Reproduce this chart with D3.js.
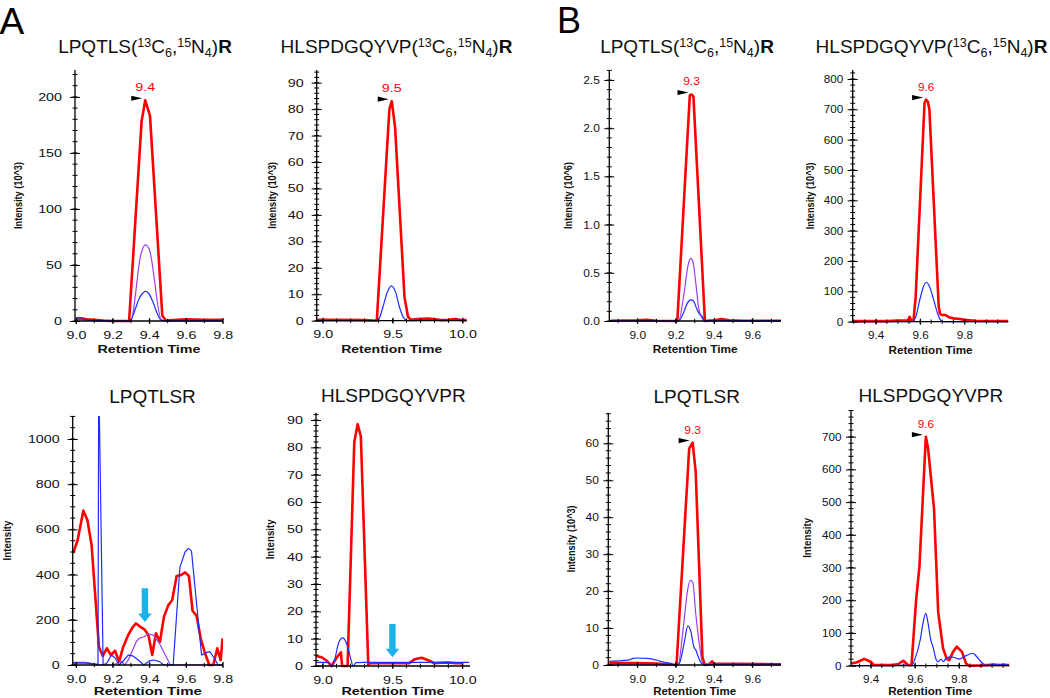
<!DOCTYPE html>
<html><head><meta charset="utf-8">
<script src="https://cdn.jsdelivr.net/npm/d3@7"></script>
<style>
html,body{margin:0;padding:0;background:#fff;}
svg{display:block;}
text{font-family:"Liberation Sans",Arial,Helvetica,sans-serif;}
</style></head><body>
<svg id="chart" width="1050" height="698"></svg>
<script>
// ---------------- DATA (retention time, intensity) ----------------
// Panel A, top-left: LPQTLS(13C6,15N4)R, intensity 10^3
const a1Red = [[9.0,2.5],[9.03,2.5],[9.06,1.5],[9.1,1],[9.15,0.3],[9.2,0],[9.29,0],[9.358,178],[9.378,197],[9.404,183],[9.471,5],[9.49,0.5],[9.55,1],[9.6,1.5],[9.65,1.2],[9.7,1],[9.8,1]];
const a1Purple = [[9.0,1.5],[9.05,1],[9.1,0.5],[9.2,0],[9.298,0],[9.355,60],[9.378,68],[9.40,64],[9.466,1],[9.49,0],[9.6,0.3],[9.8,0.3]];
const a1Blue = [[9.0,2],[9.05,1.5],[9.1,0.5],[9.2,0],[9.295,0],[9.32,9],[9.345,20],[9.365,25],[9.378,26.5],[9.395,25],[9.42,17],[9.445,6],[9.465,0.5],[9.5,0],[9.8,0.3]];
const a1XTicks = [9.0,9.2,9.4,9.6,9.8];
const a1YTicks = [0,50,100,150,200];

// Panel A, top-right: HLSPDGQYVP(13C6,15N4)R, intensity 10^3
const a2Red = [[8.96,0.3],[9.1,0.3],[9.3,0.2],[9.387,0],[9.477,80],[9.494,83],[9.518,73],[9.585,9],[9.61,1.5],[9.63,0.3],[9.68,0.6],[9.75,0.8],[9.8,0.6],[9.85,0.2],[9.9,0.3],[9.95,0.6],[10.0,0.2],[10.03,0.2]];
const a2Blue = [[8.96,0],[9.38,0],[9.40,0.5],[9.43,5],[9.46,10.5],[9.49,13.2],[9.52,11],[9.55,5],[9.58,1],[9.61,0],[9.8,0.2],[10.03,0.2]];
const a2XTicks = [9.0,9.5,10.0];
const a2YTicks = [0,10,20,30,40,50,60,70,80,90];

// Panel B, top-left: LPQTLS(13C6,15N4)R, intensity 10^6
const b1Red = [[8.86,0.003],[9.0,0.008],[9.05,0.012],[9.1,0.003],[9.209,0],[9.274,2.34],[9.283,2.35],[9.293,2.33],[9.353,0],[9.4,0.008],[9.44,0.02],[9.48,0.008],[9.55,0.003],[9.75,0.003]];
const b1Purple = [[8.86,0],[9.215,0],[9.245,0.3],[9.265,0.58],[9.278,0.65],[9.29,0.62],[9.305,0.4],[9.32,0.14],[9.335,0.04],[9.355,0],[9.75,0]];
const b1Blue = [[8.86,0],[9.215,0],[9.24,0.08],[9.26,0.18],[9.278,0.22],[9.292,0.21],[9.31,0.13],[9.325,0.07],[9.338,0.05],[9.352,0.005],[9.5,0.003],[9.75,0.003]];
const b1XTicks = [9.0,9.2,9.4,9.6];
const b1YTicks = [0,0.5,1.0,1.5,2.0,2.5];

// Panel B, top-right: HLSPDGQYVP(13C6,15N4)R, intensity 10^3
const b2Red = [[9.30,2],[9.45,2],[9.5,4],[9.545,5],[9.553,16],[9.56,3],[9.57,3],[9.58,80],[9.62,720],[9.627,732],[9.635,725],[9.642,700],[9.684,50],[9.69,25],[9.70,22],[9.715,22],[9.73,15],[9.75,11],[9.78,9],[9.8,6],[9.85,3],[9.9,2.5],[9.998,2.5]];
const b2Blue = [[9.30,0],[9.5,0],[9.565,0],[9.58,15],[9.598,70],[9.615,115],[9.628,130],[9.64,120],[9.662,70],[9.68,25],[9.695,3],[9.71,0],[9.998,0]];
const b2XTicks = [9.4,9.6,9.8];
const b2YTicks = [0,100,200,300,400,500,600,700,800];

// Panel A, bottom-left: LPQTLSR, intensity
const a3Red = [[8.985,495],[9.009,553],[9.04,683],[9.062,642],[9.085,531],[9.125,81],[9.146,40],[9.168,74],[9.191,44],[9.213,63],[9.235,15],[9.258,81],[9.285,133],[9.309,167],[9.327,184],[9.349,170],[9.373,158],[9.395,133],[9.416,44],[9.436,140],[9.458,103],[9.48,214],[9.504,265],[9.525,288],[9.549,394],[9.573,398],[9.595,410],[9.616,394],[9.636,240],[9.658,217],[9.682,111],[9.704,52],[9.727,0],[9.749,0],[9.771,74],[9.789,22],[9.8,118]];
const a3Purple = [[8.982,12],[9.05,12],[9.08,8],[9.1,0],[9.2,0],[9.23,10],[9.25,15],[9.265,0],[9.285,22],[9.309,66],[9.33,105],[9.345,118],[9.37,125],[9.395,137],[9.42,133],[9.455,96],[9.487,44],[9.515,0],[9.8,0]];
const a3Blue = [[8.982,8],[9.05,8],[9.1,5],[9.12,3],[9.124,1300],[9.148,0],[9.17,10],[9.193,44],[9.215,30],[9.235,0],[9.26,20],[9.285,44],[9.31,40],[9.34,22],[9.37,0],[9.4,18],[9.425,22],[9.455,15],[9.48,0],[9.53,0],[9.567,433],[9.595,500],[9.613,516],[9.63,505],[9.685,44],[9.71,55],[9.73,59],[9.755,30],[9.775,0],[9.8,0]];
const a3XTicks = [9.0,9.2,9.4,9.6,9.8];
const a3YTicks = [0,200,400,600,800,1000];
const a3Arrow = [9.376, 340, 190];   // retention time, arrow top, arrow tip

// Panel A, bottom-right: HLSPDGQYVPR, intensity
const a4Red = [[8.953,3.7],[8.993,3.2],[9.029,2],[9.064,0],[9.1,3],[9.131,5],[9.14,0],[9.179,0],[9.227,82],[9.251,88.5],[9.274,84],[9.327,0.5],[9.34,1],[9.5,1],[9.62,1],[9.66,2.5],[9.709,3],[9.76,2],[9.8,1],[9.85,1.2],[9.9,1.3],[9.95,1],[10.0,1]];
const a4Blue = [[8.953,1.3],[9.04,1.3],[9.07,0],[9.09,3],[9.115,8.5],[9.143,10.3],[9.17,8.5],[9.195,4],[9.219,0],[9.24,1.2],[9.3,1.3],[9.6,1.3],[10.0,1.3],[10.05,1.3]];
const a4XTicks = [9.0,9.5,10.0];
const a4YTicks = [0,10,20,30,40,50,60,70,80,90];
const a4Arrow = [9.5, 15.4, 3.2];

// Panel B, bottom-left: LPQTLSR, intensity 10^3
const b3Red = [[8.854,0.5],[9.0,0.5],[9.1,0.4],[9.205,0],[9.271,58.6],[9.289,60.2],[9.305,52.3],[9.34,2.2],[9.352,0],[9.375,0.2],[9.39,1],[9.4,0.3],[9.5,0.3],[9.75,0.2]];
const b3Purple = [[8.854,0],[9.213,0],[9.24,10],[9.262,20],[9.276,22.9],[9.29,22.4],[9.305,14],[9.326,4.9],[9.342,0.3],[9.75,0]];
const b3Blue = [[8.854,1],[8.9,1.1],[8.95,1.3],[8.98,1.8],[9.0,1.9],[9.05,1.8],[9.08,1.6],[9.12,1],[9.17,0.5],[9.205,0],[9.22,0.5],[9.245,6],[9.264,10.6],[9.28,9],[9.295,5],[9.307,3.9],[9.32,2],[9.335,0.5],[9.36,0],[9.4,0.2],[9.75,0.3]];
const b3XTicks = [9.0,9.2,9.4,9.6];
const b3YTicks = [0,10,20,30,40,50,60];

// Panel B, bottom-right: HLSPDGQYVPR, intensity
const b4Red = [[9.311,7],[9.33,9],[9.344,12],[9.37,21],[9.39,15],[9.4,12],[9.415,2],[9.44,2],[9.5,2],[9.526,5],[9.54,12],[9.548,15],[9.56,8],[9.568,2],[9.585,2],[9.606,201],[9.621,303],[9.65,700],[9.66,665],[9.687,480],[9.706,163],[9.728,53],[9.745,20],[9.756,17],[9.774,43],[9.79,58],[9.813,43],[9.832,7],[9.845,0],[9.9,1],[9.95,3],[10.0,2],[10.028,2]];
const b4Blue = [[9.311,0],[9.5,0],[9.55,2],[9.585,0],[9.6,20],[9.624,77],[9.637,130],[9.65,160],[9.66,130],[9.672,80],[9.684,53],[9.696,20],[9.706,12],[9.718,20],[9.73,12],[9.74,22],[9.76,27],[9.78,25],[9.8,20],[9.83,30],[9.862,38],[9.88,28],[9.9,12],[9.925,0],[9.94,3],[9.96,5],[9.98,2],[10.0,5],[10.028,1]];
const b4XTicks = [9.4,9.6,9.8];
const b4YTicks = [0,100,200,300,400,500,600,700];

const peakLabels = ["9.4","9.5","9.3","9.6",null,null,"9.3","9.6"];
const panelLetters = ["A","B"];
const yTitles = ["Intensity (10^3)","Intensity (10^3)","Intensity (10^6)","Intensity (10^3)","Intensity","Intensity","Intensity (10^3)","Intensity"];
const xTitle = "Retention Time";

// ---------------- DRAWING ----------------
const RED = "#ff0000", PURPLE = "#9b3df2", BLUE = "#1f2cff", CYAN = "#1cb1ea";
const svg = d3.select("#chart");
const defs = svg.append("defs");

const heavy1 = [{t:"LPQTLS("},{t:"13",sup:1},{t:"C"},{t:"6",sub:1},{t:","},{t:"15",sup:1},{t:"N"},{t:"4",sub:1},{t:")"},{t:"R",bold:1}];
const heavy2 = [{t:"HLSPDGQYVP("},{t:"13",sup:1},{t:"C"},{t:"6",sub:1},{t:","},{t:"15",sup:1},{t:"N"},{t:"4",sub:1},{t:")"},{t:"R",bold:1}];
const light1 = [{t:"LPQTLSR"}];
const light2 = [{t:"HLSPDGQYVPR"}];

const panels = [
 {key:"A1", red:a1Red, purple:a1Purple, blue:a1Blue, xDom:[8.995,9.802], xRange:[75,223], yMax:224, yRange:[321,70], xT:a1XTicks, xStep:0.1, yT:a1YTicks, yStep:10, xF:".1f", yF:"d", title:heavy1, tx:145, ty:53, ylx:18, yll:67, rtl:103, sx:1.43, yGap:13, idx:0},
 {key:"A2", red:a2Red, blue:a2Blue, xDom:[8.957,10.03], xRange:[316.7,466.7], yMax:94.8, yRange:[320.7,70], xT:a2XTicks, xStep:0.1, yT:a2YTicks, yStep:2, xF:".1f", yF:"d", title:heavy2, tx:396.5, ty:53, ylx:272, yll:67, rtl:101, sx:1.43, yGap:13, idx:1},
 {key:"B1", red:b1Red, purple:b1Purple, blue:b1Blue, xDom:[8.854,9.75], xRange:[609.3,781], yMax:2.604, yRange:[321,70], xT:b1XTicks, xStep:0.1, yT:b1YTicks, yStep:0.1, xF:".1f", yF:".1f", title:heavy1, tx:687, ty:53, ylx:568, yll:67, rtl:85, sx:1.2, yGap:9.5, idx:2},
 {key:"B2", red:b2Red, blue:b2Blue, xDom:[9.296,9.998], xRange:[852.7,1008.3], yMax:829.6, yRange:[321.7,70], xT:b2XTicks, xStep:0.05, yT:b2YTicks, yStep:20, xF:".1f", yF:"d", title:heavy2, tx:931.5, ty:53, ylx:810, yll:67, rtl:84, sx:1.17, yGap:9.5, idx:3},
 {key:"A3", red:a3Red, purple:a3Purple, blue:a3Blue, linear:true, xDom:[8.982,9.802], xRange:[72.7,223], yMax:1101.8, yRange:[665,416], xT:a3XTicks, xStep:0.1, yT:a3YTicks, yStep:50, xF:".1f", yF:"d", title:light1, tx:152.5, ty:402.5, ylx:7, yll:40, rtl:108, sx:1.43, yGap:13, idx:4, arrow:a3Arrow},
 {key:"A4", red:a4Red, blue:a4Blue, xDom:[8.953,10.055], xRange:[316,470], yMax:92.7, yRange:[666,412.7], xT:a4XTicks, xStep:0.1, yT:a4YTicks, yStep:2, xF:".1f", yF:"d", title:light2, tx:393.3, ty:401.7, ylx:270, yll:40, rtl:103, sx:1.43, yGap:13, idx:5, arrow:a4Arrow},
 {key:"B3", red:b3Red, purple:b3Purple, blue:b3Blue, xDom:[8.849,9.75], xRange:[608.3,781], yMax:68.3, yRange:[665,412.7], xT:b3XTicks, xStep:0.1, yT:b3YTicks, yStep:2, xF:".1f", yF:"d", title:light1, tx:696.7, ty:402.5, ylx:571, yll:67, rtl:83, sx:1.2, yGap:9.5, idx:6},
 {key:"B4", red:b4Red, blue:b4Blue, xDom:[9.311,10.028], xRange:[851,1009.3], yMax:781.6, yRange:[665.7,410], xT:b4XTicks, xStep:0.05, yT:b4YTicks, yStep:20, xF:".1f", yF:"d", title:light2, tx:930.8, ty:401.7, ylx:806.7, yll:40, rtl:84, sx:1.17, yGap:9.5, idx:7}
];

function minorTicks(dom, step){
  const a = Math.ceil(dom[0]/step - 1e-6), b = Math.floor(dom[1]/step + 1e-6);
  return d3.range(a, b+1).map(i => +(i*step).toFixed(5));
}

function drawTitle(parts, cx, cy){
  const t = svg.append("text").attr("x", cx).attr("y", cy).attr("text-anchor","middle")
    .attr("font-size", 19).attr("fill","#111");
  let off = 0;
  parts.forEach(p => {
    const ts = t.append("tspan").text(p.t);
    let target = 0;
    if (p.sup) { target = -6.5; ts.attr("font-size", 12.5); }
    if (p.sub) { target = 4; ts.attr("font-size", 12.5); }
    if (p.bold) ts.attr("font-weight","bold");
    if (target !== off) { ts.attr("dy", target - off); off = target; }
  });
}

panels.forEach(p => {
  const g = svg.append("g");
  const x = d3.scaleLinear().domain(p.xDom).range(p.xRange);
  const y = d3.scaleLinear().domain([0, p.yMax]).range(p.yRange);
  const axisY = p.yRange[0], top = p.yRange[1], left = p.xRange[0], right = p.xRange[1];

  defs.append("clipPath").attr("id","clip"+p.key).append("rect")
    .attr("x", left).attr("y", top).attr("width", right-left).attr("height", axisY-top+4);

  const lg = g.append("g").attr("clip-path", `url(#clip${p.key})`);
  const series = [[p.red, RED, 2.6, d3.curveLinear],
                  [p.purple, PURPLE, 1.2, p.linear ? d3.curveLinear : d3.curveMonotoneX],
                  [p.blue, BLUE, 1.2, p.linear ? d3.curveLinear : d3.curveMonotoneX]];
  series.forEach(([data, col, w, cv]) => {
    if (!data) return;
    const line = d3.line().curve(cv).x(d => x(d[0])).y(d => y(d[1]));
    lg.append("path").datum(data).attr("d", line).attr("fill","none")
      .attr("stroke", col).attr("stroke-width", w).attr("stroke-linejoin","round");
  });

  // axis lines
  g.append("line").attr("x1", left).attr("x2", right).attr("y1", axisY).attr("y2", axisY)
    .attr("stroke","#000").attr("stroke-width",1.3);
  g.append("line").attr("x1", left).attr("x2", left).attr("y1", axisY).attr("y2", top)
    .attr("stroke","#000").attr("stroke-width",1.3);

  // minor ticks
  g.append("g").selectAll("line").data(minorTicks(p.xDom, p.xStep)).join("line")
    .attr("x1", d => x(d)).attr("x2", d => x(d)).attr("y1", axisY-2.2).attr("y2", axisY+2.2)
    .attr("stroke","#000").attr("stroke-width",1);
  g.append("g").selectAll("line").data(minorTicks([0,p.yMax], p.yStep)).join("line")
    .attr("y1", d => y(d)).attr("y2", d => y(d)).attr("x1", left-2.5).attr("x2", left+2.5)
    .attr("stroke","#000").attr("stroke-width",1);

  // major x axis
  const ax = g.append("g").attr("transform", `translate(0,${axisY})`)
    .call(d3.axisBottom(x).tickValues(p.xT).tickFormat(d3.format(p.xF)).tickSize(3).tickSizeOuter(0));
  ax.select(".domain").remove();
  ax.attr("font-family", null).attr("font-size", 10);
  ax.selectAll(".tick line").attr("y1", -3).attr("y2", 3).attr("stroke","#000");
  ax.selectAll(".tick text").attr("y", 0).attr("dy", 0).attr("fill","#111")
    .attr("transform", `translate(0,17.5) scale(${p.sx},1)`);

  // major y axis
  const ay = g.append("g").attr("transform", `translate(${left},0)`)
    .call(d3.axisLeft(y).tickValues(p.yT).tickFormat(d3.format(p.yF)).tickSize(5).tickSizeOuter(0));
  ay.select(".domain").remove();
  ay.attr("font-family", null).attr("font-size", 10);
  ay.selectAll(".tick line").attr("x1", 5).attr("x2", -5).attr("stroke","#000");
  ay.selectAll(".tick text").attr("x", -p.yGap/p.sx).attr("dy","0.35em").attr("fill","#111")
    .attr("transform", `scale(${p.sx},1)`);

  // axis titles
  g.append("text").attr("x", (left+right)/2).attr("y", Math.min(axisY+32, 695)).attr("text-anchor","middle")
    .attr("font-size",10).attr("font-weight","bold").attr("fill","#111")
    .attr("textLength", p.rtl).attr("lengthAdjust","spacingAndGlyphs").text(xTitle);
  g.append("text").attr("transform", `translate(${p.ylx},${(axisY+top)/2}) rotate(-90)`)
    .attr("text-anchor","middle").attr("dy","0.35em")
    .attr("font-size",11.5).attr("font-weight","bold").attr("fill","#111")
    .attr("textLength", p.yll).attr("lengthAdjust","spacingAndGlyphs").text(yTitles[p.idx]);

  drawTitle(p.title, p.tx, p.ty);

  // peak marker
  const lab = peakLabels[p.idx];
  if (lab) {
    const pk = d3.greatest(p.red, d => d[1]);
    const px = x(pk[0]), py = y(pk[1]);
    g.append("text").attr("transform", `translate(${px},${py-9}) scale(${p.sx},1)`)
      .attr("text-anchor","middle").attr("font-size",10).attr("fill",RED).text(lab);
    const tx = px-3, ty = py-2;
    g.append("path").attr("d", `M${tx-11},${ty-2.6}L${tx},${ty}L${tx-11},${ty+2.6}Z`).attr("fill","#000");
  }

  // cyan arrow
  if (p.arrow) {
    const cx = x(p.arrow[0]), y0 = y(p.arrow[1]), y1 = y(p.arrow[2]);
    const hl = 8.5, sw = 3.2, hw = 6.8;
    g.append("path").attr("d",
      `M${cx-sw},${y0}L${cx+sw},${y0}L${cx+sw},${y1-hl}L${cx+hw},${y1-hl}L${cx},${y1}L${cx-hw},${y1-hl}L${cx-sw},${y1-hl}Z`)
      .attr("fill", CYAN);
  }
});

// panel letters
svg.append("text").attr("x",-0.5).attr("y",34).attr("font-size",37).attr("fill","#000").text(panelLetters[0]);
svg.append("text").attr("x",557).attr("y",33).attr("font-size",36).attr("fill","#000").text(panelLetters[1]);
</script>
</body></html>
